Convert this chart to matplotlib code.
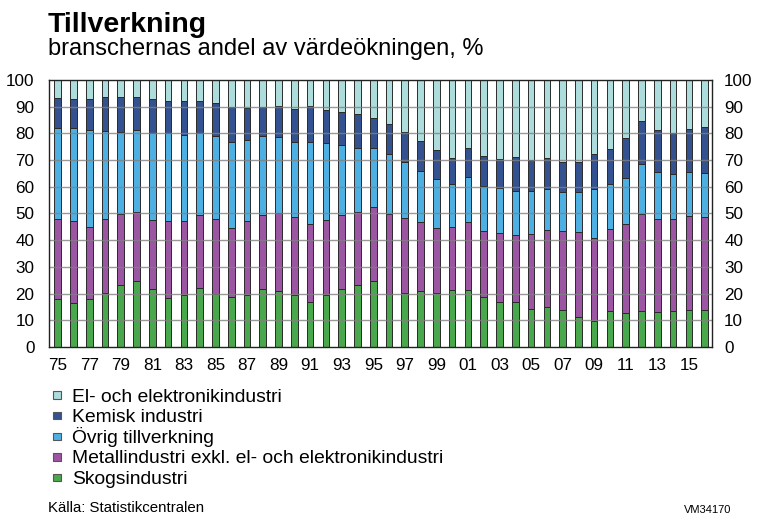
import matplotlib
matplotlib.use("Agg")
import matplotlib.pyplot as plt
from matplotlib.patches import Rectangle
import numpy as np

plt.rcParams['font.family'] = ['Liberation Sans', 'DejaVu Sans']

# år 1975-2016
years = list(range(1975, 2017))

# andelar av värdeökningen, %
skog = [18.0, 16.3, 18.0, 20.3, 23.4, 24.6, 21.8, 18.4, 19.4, 22.1, 19.7, 18.9, 19.5, 21.7,
        20.9, 19.3, 17.0, 19.3, 21.9, 23.1, 24.6, 19.9, 20.1, 20.8, 20.4, 21.3, 21.2, 18.9,
        17.0, 16.7, 14.4, 14.8, 13.7, 11.3, 9.8, 13.3, 12.9, 13.3, 13.0, 13.5, 13.8, 13.7]
metall = [29.9, 30.9, 27.1, 27.6, 26.3, 25.8, 25.7, 28.7, 27.8, 27.3, 28.4, 25.7, 27.6, 27.9,
          29.2, 29.4, 28.9, 28.3, 27.5, 27.4, 27.8, 29.8, 28.4, 26.1, 24.1, 23.6, 25.5, 24.5,
          25.6, 25.2, 27.8, 28.9, 29.7, 31.8, 30.9, 30.9, 33.2, 36.4, 34.9, 34.4, 35.4, 34.9]
ovrig = [34.3, 34.8, 36.1, 32.9, 30.9, 30.8, 32.5, 33.1, 32.2, 30.8, 31.0, 32.3, 30.5, 29.5,
         28.6, 28.2, 31.0, 28.8, 26.3, 23.9, 22.0, 22.6, 20.8, 19.1, 18.5, 16.1, 17.1, 17.0,
         16.9, 16.6, 16.3, 15.4, 14.6, 14.9, 18.4, 16.8, 17.2, 18.8, 17.8, 17.0, 16.2, 16.6]
kemisk = [11.2, 10.7, 11.8, 12.8, 13.1, 12.5, 12.7, 11.9, 12.6, 12.0, 12.1, 12.9, 12.0, 10.9,
          11.7, 12.4, 13.5, 12.4, 12.4, 12.9, 11.4, 11.3, 11.3, 11.3, 10.7, 9.8, 10.8, 11.2,
          10.9, 12.7, 11.7, 11.5, 11.3, 11.3, 13.3, 13.2, 14.8, 16.3, 15.5, 15.2, 16.3, 17.1]
el = [6.6, 7.3, 7.0, 6.4, 6.3, 6.3, 7.3, 7.9, 8.0, 7.8, 8.8, 10.2, 10.4, 10.0,
      9.6, 10.7, 9.6, 11.2, 11.9, 12.7, 14.2, 16.4, 19.4, 22.7, 26.3, 29.2, 25.4, 28.4,
      29.6, 28.8, 29.8, 29.4, 30.7, 30.7, 27.6, 25.8, 21.9, 15.2, 18.8, 19.9, 18.3, 17.7]

series = [
    ("Skogsindustri", skog, "#4aa84c"),
    ("Metallindustri exkl. el- och elektronikindustri", metall, "#9b55a3"),
    ("Övrig tillverkning", ovrig, "#4eb0e2"),
    ("Kemisk industri", kemisk, "#34528f"),
    ("El- och elektronikindustri", el, "#acdcdb"),
]

W, H = 762, 516
fig = plt.figure(figsize=(W / 100, H / 100), dpi=100)
ax = fig.add_axes([0.0643, 0.3275, 0.8697, 0.5175])

x = np.arange(len(years))
bottom = np.zeros(len(years))
for name, vals, col in series:
    vals = np.array(vals)
    ax.bar(x, vals, width=0.42, bottom=bottom, color=col, edgecolor="#2a2a2a",
           linewidth=0.7, label=name, zorder=2)
    bottom = bottom + vals

ax.set_xlim(-0.55, len(years) - 0.55)
ax.set_ylim(0, 100)
ax.set_yticks(range(0, 101, 10))
for yv in range(10, 100, 10):
    ax.axhline(yv, color="#808080", linewidth=1.0, alpha=0.8, zorder=3)

ax.set_xticks(x[::2])
ax.set_xticklabels([str(y)[2:] for y in years[::2]])
ax.tick_params(axis="both", length=0, labelsize=12.3)
ax.tick_params(axis="x", pad=8)
ax.tick_params(axis="y", pad=10.5)
for s in ax.spines.values():
    s.set_color("#222222")
    s.set_linewidth(1.0)
    s.set_zorder(4)

# höger axel
ax2 = ax.twinx()
ax2.set_ylim(0, 100)
ax2.set_yticks(range(0, 101, 10))
ax2.tick_params(axis="y", length=0, labelsize=12.3, pad=9)
for s in ax2.spines.values():
    s.set_visible(False)

fig.text(48 / W, 1 - 32.5 / H, "Tillverkning", fontsize=20.5, fontweight="bold", va="baseline")
fig.text(48 / W, 1 - 55 / H, "branschernas andel av värdeökningen, %", fontsize=17, va="baseline")

# teckenförklaring
for i, (name, vals, col) in enumerate(series[::-1]):
    yc = 395 + i * 20.6
    fig.add_artist(Rectangle((53.3 / W, 1 - (yc + 3.7) / H), 7.4 / W, 7.4 / H,
                             transform=fig.transFigure, facecolor=col,
                             edgecolor="#555555", linewidth=0.8))
    fig.text(72.5 / W, 1 - (yc + 6.5) / H, name, fontsize=13.85, va="baseline")

fig.text(48 / W, 1 - 512 / H, "Källa: Statistikcentralen", fontsize=10.8, va="baseline")
fig.text(684 / W, 1 - 513 / H, "VM34170", fontsize=8, va="baseline")

fig.savefig("out.png", dpi=100)
